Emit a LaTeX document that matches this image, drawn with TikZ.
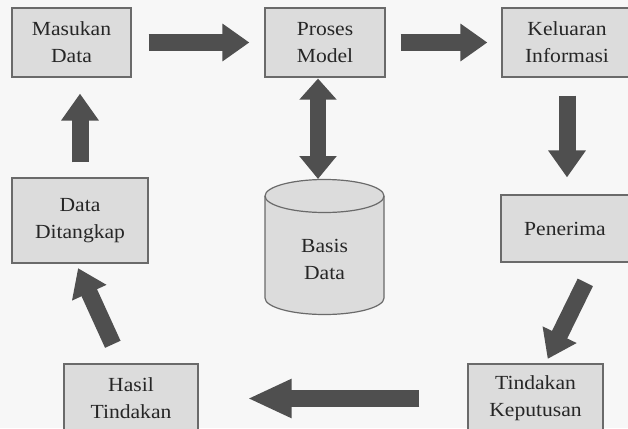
\documentclass[tikz,border=0pt]{standalone}
\usepackage{fontspec}
\setmainfont{Liberation Serif}[FakeStretch=1.08]
\usetikzlibrary{arrows.meta,calc}
\definecolor{BoxGray}{HTML}{DCDCDC}
\definecolor{EdgeGray}{HTML}{6A6A6A}
\definecolor{ArrowGray}{HTML}{4F4F4F}
\definecolor{TextGray}{HTML}{262626}
\definecolor{PageGray}{HTML}{F7F7F7}

\begin{document}
\begin{tikzpicture}[x=1pt,y=-1pt,
  box/.style={draw=EdgeGray,line width=1.2pt,fill=BoxGray,text=TextGray,align=center,
    font=\fontsize{20}{27}\selectfont,inner sep=0pt},
  flow/.style={ArrowGray,line width=17pt,-{Triangle[width=36pt,length=27pt]}}]
  \fill[PageGray] (0,0) rectangle (628,428);
  \useasboundingbox (0,0) rectangle (628,428);
  % boxes
  \node[box,minimum width=119pt,minimum height=69pt] (masukan) at (71.5,42.5) {Masukan\\Data};
  \node[box,minimum width=120pt,minimum height=69pt] (proses) at (325,42.5) {Proses\\Model};
  \node[box,minimum width=130pt,minimum height=69pt] (keluaran) at (567,42.5) {Keluaran\\Informasi};
  \node[box,minimum width=128pt,minimum height=67pt] (penerima) at (565,228.5) {Penerima};
  \node[box,minimum width=136pt,minimum height=85pt] (ditangkap) at (80,220.5) {Data\\Ditangkap};
  \node[box,minimum width=134pt,minimum height=69pt] (hasil) at (131,398.5) {Hasil\\Tindakan};
  \node[box,minimum width=135pt,minimum height=69pt] (keputusan) at (535.5,398.5) {Tindakan\\Keputusan};
  % database
  \draw[draw=EdgeGray,line width=1.2pt,fill=BoxGray] (265,196) -- (265,298)
    arc[start angle=180,end angle=360,x radius=59.5pt,y radius=16.5pt] -- (384,196)
    arc[start angle=0,end angle=180,x radius=59.5pt,y radius=16.5pt] -- cycle;
  \draw[draw=EdgeGray,line width=1.2pt] (265,196)
    arc[start angle=180,end angle=360,x radius=59.5pt,y radius=16.5pt];
  \node[box,draw=none,fill=none] (basis) at (324.5,259) {Basis\\Data};
  \coordinate (basistop) at (318,179);
  % arrows
  \draw[flow,shorten <=17pt,shorten >=15pt] (masukan) -- (proses);
  \draw[flow,shorten <=15pt,shorten >=14pt] (proses) -- (keluaran);
  \draw[flow,shorten <=18pt,shorten >=17pt] (keluaran.south) -- (keluaran.south |- penerima.north);
  \draw[flow,shorten <=22pt,shorten >=5pt] ([xshift=30pt]penerima.south) -- ([xshift=10pt]keputusan.north);
  \draw[flow,-{Triangle[width=36pt,length=44pt]},shorten <=48pt,shorten >=49pt] (keputusan) -- (hasil);
  \draw[flow,shorten <=21pt,shorten >=5pt] ([xshift=-9.5pt]hasil.north) -- ([xshift=-4pt]ditangkap.south);
  \draw[flow,shorten <=15pt,shorten >=16pt] (ditangkap.north) -- (ditangkap.north |- masukan.south);
  \draw[flow,line width=16pt,{Triangle[width=36pt,length=21pt]}-{Triangle[width=36pt,length=23pt]},shorten <=1pt]
    ([xshift=-7pt]proses.south) -- (basistop);
\end{tikzpicture}
\end{document}
